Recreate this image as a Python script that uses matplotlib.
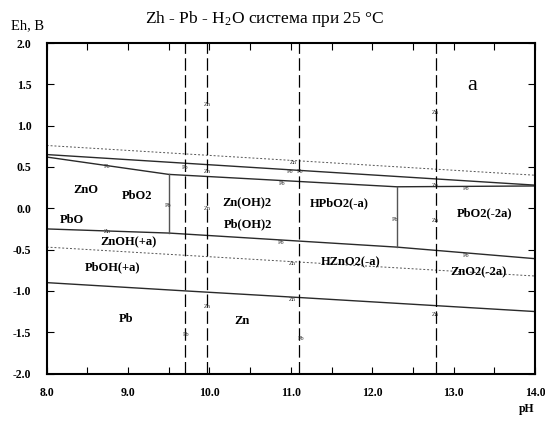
import matplotlib
matplotlib.use('Agg')
import matplotlib.pyplot as plt
import numpy as np

plt.rcParams['font.family'] = ['Liberation Serif', 'DejaVu Serif']
plt.rcParams['mathtext.fontset'] = 'stix'

# water stability lines (dotted)
o2_ph = [8.0, 14.0]
o2_eh = [0.76, 0.40]
h2_ph = [8.0, 14.0]
h2_eh = [-0.47, -0.82]

# solid boundaries
line_a_ph = [8.0, 14.0]
line_a_eh = [0.65, 0.28]
line_b_ph = [8.0, 9.5, 12.3, 14.0]
line_b_eh = [0.62, 0.41, 0.26, 0.27]
line_c_ph = [8.0, 9.5, 12.3, 14.0]
line_c_eh = [-0.25, -0.30, -0.47, -0.61]
line_d_ph = [8.0, 9.7, 11.1, 14.0]
line_d_eh = [-0.90, -1.00, -1.08, -1.25]

# vertical solid segments (pH, Eh bottom, Eh top)
vert_ph = [9.5, 12.3]
vert_lo = [-0.30, -0.47]
vert_hi = [0.41, 0.26]

# vertical dashed lines
dash_ph = [9.7, 9.97, 11.1, 12.78]

# region labels
region_names = ['ZnO', 'PbO2', 'PbO', 'Zn(OH)2', 'Pb(OH)2', 'HPbO2(-a)', 'PbO2(-2a)',
                'ZnOH(+a)', 'HZnO2(-a)', 'ZnO2(-2a)', 'PbOH(+a)', 'Pb', 'Zn']
region_ph = [8.48, 9.11, 8.31, 10.46, 10.47, 11.59, 13.38, 9.0, 11.73, 13.30, 8.81, 8.98, 10.40]
region_eh = [0.22, 0.15, -0.14, 0.06, -0.19, 0.06, -0.06, -0.41, -0.65, -0.77, -0.71, -1.34, -1.37]

# small marker labels along boundaries
tag_names = ['Pb', 'Pb', 'Zn', 'Pb', 'Zn', 'Zn', 'Zn', 'Zn', 'Zn', 'Pb', 'Pb', 'Pb',
             'Zn', 'Pb', 'Pb', 'Zn', 'Pb', 'Pb', 'Zn', 'Zn', 'Pb', 'Zn', 'Zn', 'Pb']
tag_ph = [8.74, 9.70, 9.97, 9.49, 9.97, 8.75, 9.97, 12.78, 11.03, 10.99, 11.11, 10.89,
          12.78, 13.15, 12.28, 12.78, 10.88, 13.15, 11.02, 11.02, 11.12, 12.78, 9.97, 9.71]
tag_eh = [0.50, 0.49, 0.44, 0.03, 0.00, -0.28, 1.25, 1.16, 0.56, 0.44, 0.44, 0.30,
          0.28, 0.24, -0.13, -0.15, -0.41, -0.57, -0.67, -1.11, -1.58, -1.29, -1.19, -1.53]

fig = plt.figure(figsize=(5.45, 4.21), dpi=100)
ax = fig.add_axes([0.0857, 0.1128, 0.896, 0.785])

ax.plot(o2_ph, o2_eh, color='#555555', linestyle=(0, (2, 2)), linewidth=0.7)
ax.plot(h2_ph, h2_eh, color='#555555', linestyle=(0, (2, 2)), linewidth=0.7)

for xs, ys in [(line_a_ph, line_a_eh), (line_b_ph, line_b_eh),
               (line_c_ph, line_c_eh), (line_d_ph, line_d_eh)]:
    ax.plot(xs, ys, color='#2a2a2a', linewidth=1.0)

for x, lo, hi in zip(vert_ph, vert_lo, vert_hi):
    ax.plot([x, x], [lo, hi], color='#555555', linewidth=1.0)

for x in dash_ph:
    ax.axvline(x, color='black', linestyle=(0, (10, 3.5)), linewidth=0.9)

for name, x, y in zip(tag_names, tag_ph, tag_eh):
    ax.text(x, y, name, fontsize=4.5, ha='center', va='center', color='#333333')

for name, x, y in zip(region_names, region_ph, region_eh):
    ax.text(x, y, name, fontsize=9, fontweight='bold', ha='center', va='center')

ax.text(13.23, 1.48, 'a', fontsize=16, ha='center', va='center')

ax.set_xlim(8, 14)
ax.set_ylim(-2, 2)
ax.set_xticks(np.arange(8, 14.01, 1.0))
ax.set_xticks(np.arange(8, 14.01, 0.5), minor=True)
ax.set_xticklabels(['8.0', '9.0', '10.0', '11.0', '12.0', '13.0', '14.0'])
ax.set_yticks(np.arange(-2, 2.01, 0.5))
ax.set_yticklabels(['-2.0', '-1.5', '-1.0', '-0.5', '0.0', '0.5', '1.0', '1.5', '2.0'])
ax.tick_params(axis='both', which='both', direction='in', top=True, right=True,
               labelsize=8.5, width=0.8)
ax.tick_params(axis='both', which='major', length=5)
ax.tick_params(axis='x', which='minor', length=5)
ax.tick_params(axis='x', which='major', pad=10)
ax.tick_params(axis='y', which='major', pad=11)
for lbl in ax.get_xticklabels() + ax.get_yticklabels():
    lbl.set_fontweight('bold')
for sp in ax.spines.values():
    sp.set_linewidth(1.5)

fig.text(0.486, 0.955, r'Zh - Pb - H$_\mathregular{2}$O система при 25 °C', fontsize=12.5,
         ha='center', va='center')
fig.text(0.05, 0.94, 'Eh, B', fontsize=10.5, ha='center', va='center')
fig.text(0.967, 0.028, 'pH', fontsize=8.5, fontweight='bold', ha='center', va='center')

fig.savefig('out.png', dpi=100)
